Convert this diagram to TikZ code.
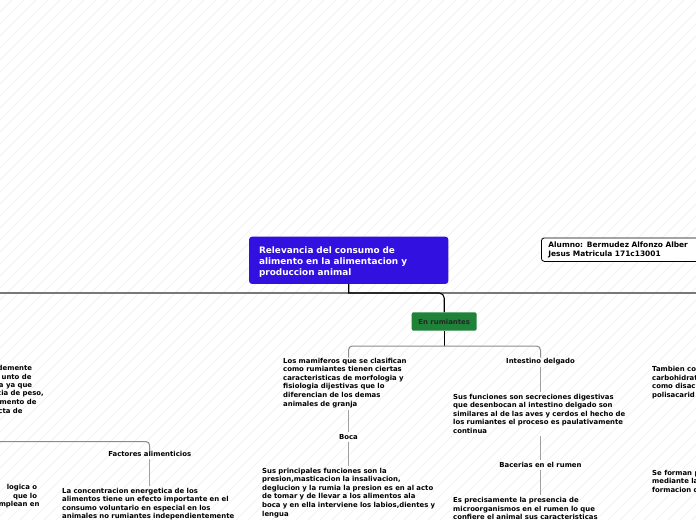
\documentclass[tikz,border=0pt]{standalone}
\usepackage{fontspec}
\setmainfont{DejaVu Sans}
\definecolor{mainblue}{RGB}{49,16,224}
\definecolor{rumgreen}{RGB}{30,130,56}
\definecolor{conngray}{RGB}{160,160,160}
\definecolor{branchgray}{RGB}{140,140,140}
\definecolor{trunkgray}{RGB}{120,120,120}
\definecolor{hatchgray}{RGB}{238,238,238}
\newcommand\smallbf{\fontsize{6.9}{8.6}\selectfont\bfseries}
\begin{document}
\begin{tikzpicture}[x=1pt,y=-1pt,
  hatch/.style={hatchgray,line width=0.5pt},
  mainbox/.style={fill=mainblue,rounded corners=3pt,text=white,
    font=\fontsize{8.9}{11}\selectfont\bfseries,align=left,text width=179.3pt,
    inner xsep=10pt,inner ysep=0pt,minimum height=47.3pt},
  alumbox/.style={draw=black,line width=0.8pt,fill=white,rounded corners=3pt,
    font=\fontsize{7.45}{8.7}\selectfont\bfseries,align=left,text width=250pt,
    inner xsep=7pt,inner ysep=0pt,minimum height=23.5pt,anchor=north west},
  rumbox/.style={fill=rumgreen,rounded corners=2pt,text=black!85,font=\smallbf,
    minimum width=65pt,minimum height=18.4pt,inner sep=0pt},
  body/.style={font=\smallbf,align=left,text width=200pt,inner sep=0pt,anchor=base west},
  title/.style={font=\smallbf,inner sep=0pt,anchor=base},
  frag/.style={font=\smallbf,inner sep=0pt,anchor=base east},
  fragr/.style={font=\smallbf,inner sep=0pt,anchor=base west,align=left},
  conn/.style={conngray,line width=1pt,shorten <=2pt,shorten >=2pt},
  branch/.style={branchgray,line width=1pt,rounded corners=4pt},
  trunk/.style={trunkgray,line width=1.6pt},
  darkline/.style={black,line width=1.1pt}
]
\useasboundingbox (0,0) rectangle (696,520);
\clip (0,0) rectangle (696,520);
\fill[white] (0,0) rectangle (696,520);
\foreach \i in {0,12,...,1224} \draw[hatch] ({\i-520},520) -- (\i,0);

% trunk
\coordinate (tl) at (0,293);
\coordinate (tr) at (696,293);
\draw[trunk] (tl) -- (tr);

% main nodes
\node[mainbox] (main) at (348.7,260.3) {\rule{0pt}{9.5pt}Relevancia del consumo de\\alimento en la alimentacion y\\produccion animal};
\node[alumbox] (alum) at (541,237.5) {Alumno: Bermudez Alfonzo Alber\\Jesus Matricula 171c13001};
\node[rumbox] (rum) at (444.2,321.5) {En rumiantes};

\coordinate (m1) at (main.south |- tl);
\draw[darkline] (main.south) -- (m1) [rounded corners=5pt] -| (rum.north);

% ruminant branch
\coordinate (j) at (444.2,346);
\draw[darkline] (rum.south) -- (j);

\node[body] (mam) at (283,363.1) {Los mamiferos que se clasifican\\como rumiantes tienen ciertas\\caracteristicas de morfologia y\\fisiologia dijestivas que lo\\diferencian de los demas\\animales de granja};
\node[title] (boca) at (348.5,439.4) {Boca};
\node[body] (bocatxt) at (262,473.1) {Sus principales funciones son la\\presion,masticacion la insalivacion,\\deglucion y la rumia la presion es en al acto\\de tomar y de llevar a los alimentos ala\\boca y en ella interviene los labios,dientes y\\lengua};

\node[title] (int) at (540.5,363.1) {Intestino delgado};
\node[body] (inttxt) at (453,399.1) {Sus funciones son secreciones digestivas\\que desenbocan al intestino delgado son\\similares al de las aves y cerdos el hecho de\\los rumiantes el proceso es paulativamente\\continua};
\node[title] (bac) at (540.5,467.4) {Bacerias en el rumen};
\node[body] (bactxt) at (453,502.4) {Es precisamente la presencia de\\microorganismos en el rumen lo que\\confiere el animal sus caracteristicas};

\draw[branch] (j) -| (boca.north |- mam.north);
\draw[branch] (j) -| (int.north);
\draw[conn] (boca.north |- mam.south) -- (boca.north);
\draw[conn] (boca.south) -- (boca.south |- bocatxt.north);
\draw[conn] (int.south) -- (int.south |- inttxt.north);
\draw[conn] (bac.north |- inttxt.south) -- (bac.north);
\draw[conn] (bac.south) -- (bac.south |- bactxt.north);

% factores
\coordinate (fl) at (0,441.5);
\node[title] (fact) at (149.7,456.7) {Factores alimenticios};
\node[body] (facttxt) at (62,493.1) {La concentracion energetica de los\\alimentos tiene un efecto importante en el\\consumo voluntario en especial en los\\animales no rumiantes independientemente};
\draw[branch] (fl) -| (fact.north);
\draw[conn] (fact.south) -- (fact.south |- facttxt.north);

% left fragments
\node[frag] (l1) at (32.3,370.7) {idemente};
\node[frag] (l2) at (31.7,379.1) {unto de};
\node[frag] (l3) at (32.3,387.4) {a ya que};
\node[frag] (l4) at (44,395.7) {cia de peso,};
\node[frag] (l5) at (36.7,404.7) {mento de};
\node[frag] (l6) at (22.7,413.4) {cta de};
\node[frag] (l7) at (37.3,489.7) {logica o};
\node[frag] (l8) at (37.3,498.1) {que lo};
\node[frag] (l9) at (39.7,506.4) {mplean en};

% right fragments
\node[fragr] (r1) at (652,397.5) {Tambien co\\carbohidrat\\como disac\\polisacarid};
\node[fragr] (r2) at (652,492.5) {Se forman p\\mediante la\\formacion d};
\end{tikzpicture}
\end{document}
